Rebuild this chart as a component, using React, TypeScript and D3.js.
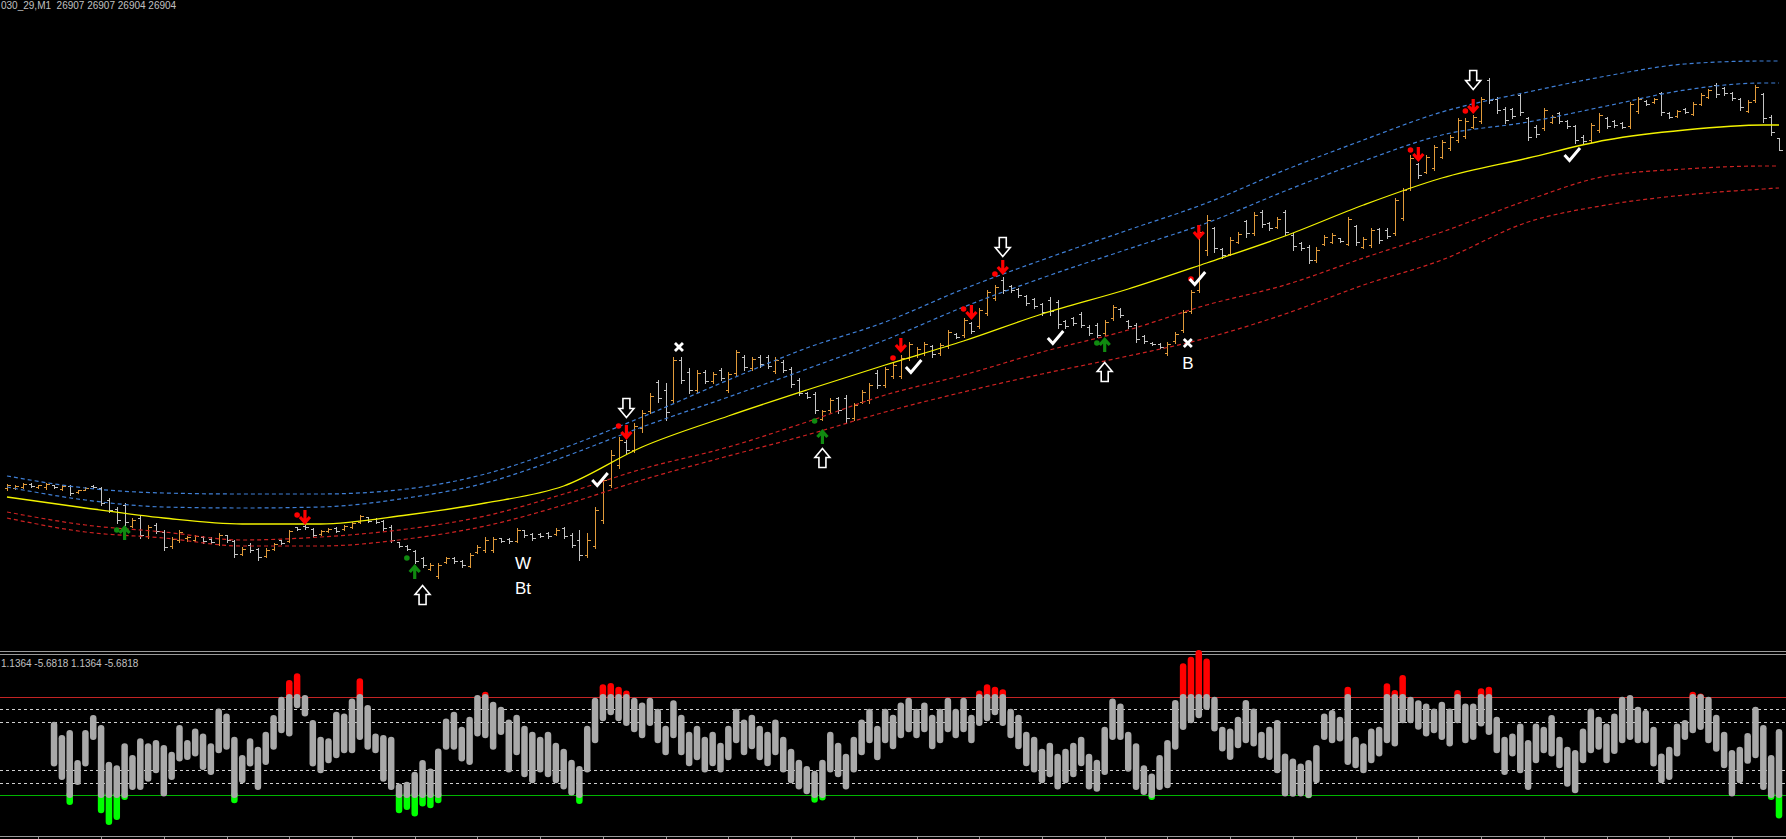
import { useEffect } from "react";
import * as d3 from "d3";

const WIDTH = 1786;
const HEIGHT = 839;

const symbolText = "030_29,M1  26907 26907 26904 26904";
const oscText = "1.1364 -5.6818 1.1364 -5.6818";

// M1 price bars
const opens = [
  26819.5, 26819.5, 26819.75, 26820.5, 26819.75, 26819.75, 26820.25, 26819.25, 26820, 26818.5,
  26819, 26820, 26819.5, 26816.5, 26814.25, 26815.25, 26810, 26812, 26807.5, 26810.25,
  26808.5, 26805, 26806.5, 26807, 26806.5, 26807.25, 26806.75, 26805.5, 26807.75, 26806.25,
  26803, 26805.25, 26804.25, 26802.5, 26804.25, 26806.5, 26806.25, 26809.75, 26810, 26809.25,
  26808, 26808.75, 26809.5, 26809.25, 26809.75, 26811, 26812.25, 26811.75, 26811.25, 26809.75,
  26806, 26805, 26803.75, 26802, 26799.25, 26797.5, 26801, 26802, 26801.25, 26800,
  26803.5, 26804, 26804, 26807, 26806.75, 26806.25, 26809, 26808, 26808, 26808.25,
  26808, 26809.5, 26807.75, 26806.5, 26802.75, 26805, 26811.5, 26820.25, 26825.25, 26831,
  26829, 26834.5, 26838.75, 26846, 26844, 26841.5, 26851.5, 26848.5, 26844, 26848.5,
  26846.25, 26849, 26844, 26848.25, 26852.25, 26849.5, 26852.25, 26852.25, 26848.75, 26851,
  26849.25, 26846.5, 26843.25, 26843, 26836.75, 26839, 26842, 26842, 26837, 26841,
  26841.5, 26848.25, 26845.25, 26847.5, 26847.5, 26852, 26852.75, 26853.25, 26855, 26853.25,
  26855, 26858, 26857.75, 26860.75, 26860, 26863.25, 26867, 26871.5, 26870, 26869.25,
  26867.5, 26866.75, 26865.5, 26866.5, 26866, 26861.25, 26862, 26863, 26859.75, 26860.25,
  26858.25, 26862, 26864.25, 26861.25, 26860.25, 26857.5, 26855.75, 26855.5, 26853.25, 26856.25,
  26859, 26863.75, 26869, 26879, 26884.5, 26879.25, 26878, 26881, 26886.25, 26883.25,
  26888.5, 26885.75, 26884.75, 26888.5, 26882.75, 26880.75, 26879.75, 26876.5, 26880.5, 26881,
  26882, 26880.5, 26885, 26879.75, 26880.25, 26884.25, 26884, 26883.25, 26887, 26894.5,
  26900.5, 26898.5, 26899.5, 26902.25, 26904.5, 26906.5, 26907.5, 26909.75, 26911.25, 26921.5,
  26916.75, 26914.25, 26914.25, 26917.75, 26912, 26909.75, 26909.5, 26911, 26913.25, 26911.25,
  26910, 26907.25, 26906.5, 26909, 26912, 26911.25, 26910.75, 26910, 26913.75, 26916.25,
  26916, 26918.25, 26913.25, 26912.5, 26914.25, 26913, 26915.5, 26917.25, 26920.25, 26919.5,
  26918.25, 26916.75, 26913.75, 26916.5, 26918, 26912.25, 26907,
];
const highs = [
  26820.5, 26820.25, 26820.75, 26820.75, 26820.25, 26820.75, 26820.25, 26820.25, 26820.25, 26819,
  26819.75, 26820.25, 26819.75, 26817, 26814.75, 26815.75, 26812, 26812.75, 26810.25, 26810.75,
  26809, 26807.25, 26809, 26807.5, 26807.75, 26807.5, 26807.25, 26808.25, 26807.75, 26806.5,
  26804.75, 26805.75, 26804.5, 26804.5, 26805.75, 26806.5, 26809, 26809.75, 26810.25, 26809.5,
  26809, 26809.5, 26809.75, 26810.25, 26811, 26812.75, 26812.25, 26812, 26811.5, 26810.25,
  26806, 26805.25, 26804, 26802.25, 26800.75, 26800.75, 26802.25, 26802.25, 26801.5, 26803.25,
  26805.25, 26807.25, 26807.25, 26807, 26807, 26809.5, 26809, 26808.25, 26808.25, 26808.5,
  26809.5, 26809.75, 26808.25, 26809, 26808.25, 26814.75, 26822.25, 26829, 26832.25, 26831.5,
  26835.75, 26839, 26843.25, 26846.5, 26845.75, 26852.25, 26852.25, 26849.5, 26849, 26849,
  26848.5, 26849.5, 26848.5, 26854, 26852.75, 26852.25, 26852.75, 26852.75, 26852.25, 26851.5,
  26849.75, 26847, 26843.5, 26843.5, 26839, 26842, 26842.25, 26842.75, 26840.75, 26844,
  26845.75, 26849, 26849.75, 26850.75, 26852.75, 26856, 26854.75, 26856, 26855.25, 26855.75,
  26859, 26858.25, 26862, 26861, 26864.5, 26869, 26870.25, 26872.25, 26870.25, 26869.5,
  26867.75, 26867, 26865.75, 26867.25, 26866.5, 26861.5, 26862.25, 26863.5, 26860.25, 26860.75,
  26861.5, 26865.25, 26864.5, 26861.5, 26860.75, 26857.75, 26856, 26855.75, 26856, 26858.5,
  26864, 26869, 26884.75, 26887.75, 26884.75, 26879.5, 26882.25, 26883.5, 26886.5, 26888.5,
  26889, 26886, 26887.25, 26889, 26883.25, 26881, 26880.25, 26879.75, 26882.75, 26883.25,
  26882, 26887.25, 26885.25, 26882.25, 26884.5, 26884.5, 26884.5, 26892, 26894.5, 26902.75,
  26900.75, 26902.75, 26905.25, 26906.5, 26907.75, 26912, 26912, 26912.75, 26917.25, 26922,
  26917.25, 26914.75, 26914.5, 26918.25, 26912.25, 26910.25, 26914.5, 26912.75, 26913.5, 26911.5,
  26910.25, 26907.75, 26910.75, 26913.25, 26912.25, 26911.5, 26911, 26916, 26917.25, 26916.5,
  26917, 26918.5, 26913.5, 26914, 26914.5, 26916, 26918.25, 26919.25, 26920.75, 26919.75,
  26918.5, 26917, 26916.5, 26920.25, 26918.25, 26912.75, 26907,
];
const lows = [
  26819, 26819.25, 26819.5, 26819.75, 26819.5, 26819.25, 26819.5, 26819, 26817.75, 26818.25,
  26819, 26819.5, 26815.25, 26813.5, 26810.75, 26810.25, 26809.75, 26807, 26807, 26808.25,
  26804, 26804.5, 26806, 26806.25, 26806.25, 26805.75, 26805.75, 26805.25, 26806, 26802.25,
  26802.75, 26803.5, 26801.5, 26802.25, 26804, 26805.5, 26806, 26809, 26809.25, 26807.25,
  26807.75, 26808.5, 26808.5, 26809, 26809.5, 26810.75, 26811, 26810.75, 26809, 26806,
  26804.75, 26804, 26800.75, 26799.75, 26799, 26797, 26800.75, 26800.75, 26799.75, 26799.75,
  26803.25, 26803.5, 26803.5, 26806, 26805.75, 26806, 26807.25, 26806.5, 26807.25, 26807,
  26807.75, 26807, 26804.75, 26801.5, 26802.25, 26804.5, 26810.75, 26819.75, 26824.5, 26828.25,
  26828.5, 26833.5, 26838.25, 26841, 26836.5, 26841, 26845.75, 26843.25, 26843.5, 26845.75,
  26845.75, 26846.5, 26843.5, 26847.75, 26849, 26849, 26849.75, 26849.5, 26848.25, 26848.5,
  26844.75, 26842.75, 26842, 26838.25, 26836.5, 26838.5, 26838.25, 26836, 26836.5, 26840.75,
  26840.75, 26844.5, 26844.75, 26847, 26847, 26851.5, 26852.25, 26852.75, 26852.25, 26852.75,
  26854.5, 26857, 26857.25, 26858.25, 26859.5, 26862.75, 26866.5, 26868.25, 26868.5, 26867.25,
  26865.25, 26864.5, 26862.75, 26862.75, 26859.5, 26859.5, 26860.25, 26859.75, 26857.75, 26857.25,
  26857.75, 26861.5, 26862.25, 26859.5, 26856, 26855.75, 26855.25, 26854.5, 26852.75, 26855.75,
  26858.5, 26863.25, 26868.5, 26877.75, 26878.5, 26877, 26877.75, 26880.75, 26882.25, 26882.75,
  26884.75, 26884, 26884.5, 26882.75, 26879, 26879, 26875.75, 26876, 26880.25, 26880.75,
  26881, 26880.25, 26880.25, 26879.5, 26879.75, 26880.75, 26882, 26882.75, 26886.5, 26894,
  26897, 26898.25, 26899, 26902, 26904, 26906, 26907, 26909.5, 26910.75, 26915.75,
  26913.25, 26910.75, 26912, 26912.75, 26906.5, 26907.25, 26909, 26910.75, 26910.75, 26909.5,
  26905.75, 26905.75, 26906, 26908.5, 26909.5, 26909.75, 26909.5, 26909.5, 26913.25, 26915.25,
  26915.75, 26912.75, 26912, 26912.25, 26913.25, 26912.75, 26915.25, 26917, 26917.25, 26917.75,
  26916.5, 26914, 26913.5, 26916, 26911, 26907.75, 26904,
];
const closes = [
  26820.25, 26820, 26820.5, 26820, 26820.25, 26820.5, 26819.75, 26820, 26818.25, 26819,
  26819.5, 26819.75, 26815.75, 26814, 26811.5, 26811, 26811.5, 26807.75, 26809.75, 26808.75,
  26804.75, 26806.75, 26808.5, 26807.25, 26807.5, 26806.25, 26806, 26807.75, 26806.5, 26803,
  26804.25, 26804, 26802.25, 26804, 26805.5, 26805.75, 26808.75, 26809.25, 26809.75, 26807.75,
  26808.75, 26809.25, 26808.75, 26810, 26810.75, 26812.5, 26811.25, 26811, 26809.5, 26806.5,
  26805, 26804.25, 26801.25, 26800.25, 26800.25, 26800.25, 26802, 26801.25, 26800.25, 26802.75,
  26804.75, 26806.5, 26806.75, 26806.25, 26806.25, 26809, 26807.75, 26807, 26807.5, 26807.5,
  26809, 26807.5, 26805.25, 26802.75, 26806.5, 26814, 26821.5, 26827.75, 26831.5, 26829,
  26835, 26838.25, 26842.5, 26842, 26838.5, 26851.5, 26846.5, 26844, 26848.25, 26846.25,
  26848, 26847, 26848, 26853.5, 26849.75, 26851.75, 26850.5, 26850, 26851.5, 26849,
  26845.5, 26843.25, 26842.25, 26839, 26838.75, 26841.5, 26839, 26837, 26840.25, 26843.5,
  26845.25, 26845.25, 26849.25, 26850.25, 26852, 26855.5, 26854.25, 26855.5, 26853, 26855.25,
  26858.5, 26857.25, 26861.5, 26858.75, 26864, 26868.5, 26869.75, 26869, 26869, 26867.75,
  26865.75, 26865, 26863.5, 26863.75, 26860.5, 26860, 26860.75, 26860.25, 26858.25, 26857.75,
  26861, 26864.75, 26862.75, 26860, 26856.75, 26856.25, 26855.5, 26854.75, 26855.5, 26858,
  26863.5, 26868.5, 26883.5, 26886.5, 26879.5, 26877.75, 26881.5, 26883, 26883.25, 26887.75,
  26885.5, 26884.5, 26886.75, 26883.5, 26880, 26879.5, 26876.5, 26879, 26882.25, 26882.75,
  26881.25, 26886.75, 26881, 26881.75, 26884, 26881.5, 26882.5, 26891.5, 26894, 26902,
  26897.75, 26902.25, 26904.75, 26906, 26907.25, 26911.5, 26911.25, 26912.25, 26916.75, 26916.5,
  26914, 26911.5, 26912.5, 26913.5, 26907.25, 26908, 26914, 26912.25, 26911.25, 26910,
  26906.5, 26906.25, 26910.25, 26912.75, 26910, 26910.25, 26909.75, 26915.5, 26916.75, 26915.5,
  26916.75, 26913.5, 26912.25, 26913.75, 26913.5, 26915.5, 26917.75, 26919, 26918, 26918.25,
  26917, 26914.75, 26916, 26919.75, 26912, 26908.5, 26904,
];

// moving average and envelope bands, read at these bar numbers
const bandBars = [0, 10, 20, 30, 40, 51, 61, 71, 81, 92, 102, 112, 122, 132, 143, 153, 163, 173, 183, 194, 204, 214, 224, 226];
const maLine = [26817.25, 26814.5, 26812, 26810.5, 26810.5, 26812.75, 26815.75, 26820, 26829.75, 26837.5, 26844, 26850.25, 26856.25, 26863, 26869.25, 26875.75, 26882.5, 26890.25, 26897, 26902, 26906.5, 26909, 26910.25, 26910.25];
const upperOuter = [26822.5, 26819.5, 26818.25, 26818, 26818, 26819.25, 26823, 26829.5, 26837.25, 26846.5, 26854.5, 26861, 26869.25, 26876.5, 26884, 26890.75, 26899, 26906.5, 26913.5, 26918.5, 26922.5, 26925.5, 26926.25, 26926.25];
const upperInner = [26819.75, 26816.5, 26814.75, 26814.5, 26814.75, 26817, 26820.75, 26827.25, 26834.75, 26842.25, 26849.25, 26856.5, 26864.75, 26872, 26879.25, 26885.75, 26893.75, 26901.25, 26907.75, 26911, 26915, 26919, 26920.75, 26920.75];
const lowerInner = [26813.5, 26810.25, 26808.5, 26806.5, 26807.25, 26809.25, 26812.5, 26818, 26824.25, 26829.75, 26836, 26842.75, 26847.75, 26853.5, 26859, 26865.25, 26870.25, 26877, 26883.5, 26891.5, 26897.5, 26899.25, 26900, 26900];
const lowerOuter = [26812, 26808.5, 26807, 26805, 26805, 26806.75, 26810, 26815.25, 26821.5, 26827.5, 26832.75, 26838.5, 26843.5, 26848, 26852.5, 26857, 26863, 26870.25, 26876.5, 26886, 26890.25, 26892.75, 26894.25, 26894.5];

// signal markers: [bar, price]
const redArrows = [[38, 26812.25], [79, 26833.5], [114, 26855.25], [123, 26863.5], [127, 26874.75], [152, 26883.5], [180, 26903], [187, 26915]];
const redDots = [[37, 26812.75], [78, 26835], [113, 26852], [122, 26864.25], [126, 26873], [151, 26871.75], [179, 26904], [186, 26913.75]];
const greenArrows = [[15, 26808.25], [52, 26798.5], [104, 26832.25], [140, 26855.25]];
const greenDots = [[14, 26809], [51, 26802], [103, 26836.25], [139, 26855.75]];
const hollowDown = [[79, 26839.5], [127, 26879.75], [187, 26921.5]];
const hollowUp = [[53, 26792.75], [104, 26827], [140, 26848.5]];
const checks = [[75.6, 26821.5], [115.6, 26849.75], [133.7, 26857], [151.8, 26871.75], [199.6, 26902.75]];
const crosses = [[85.7, 26854.75], [150.6, 26855.75]];
const labels: [string, number, number][] = [["W", 65.8, 26800.75], ["Bt", 65.8, 26794.5], ["B", 150.6, 26850.75]];

// oscillator (two buffers per bar), levels
const oscHigh = [
  null, null, null, null, null, null, 1.73, 0.63, 1.04, -1.42,
  1.04, 2.27, 1.45, -1.56, -1.84, -0.05, -1.01, 0.36, -0.05, 0.22,
  -0.19, -0.74, 1.45, 0.22, 1.18, 0.77, -0.05, 2.82, 2.41, 0.49,
  -1.01, 0.36, -0.33, 0.9, 2.27, 3.78, 5.15, 5.7, 3.92, 1.86,
  0.49, 0.36, 2.55, 2.41, 3.64, 5.29, 3.1, 0.77, 0.63, 0.49,
  -3.34, -3.21, -2.38, -1.42, -2.11, -0.47, 2.0, 2.55, 1.32, 2.14,
  3.92, 4.19, 3.37, 2.96, 1.9, 2.3, 1.4, 0.9, 0.5, 0.9,
  0.0, -0.5, -1.4, -1.9, 1.4, 3.7, 4.8, 4.9, 4.6, 4.3,
  3.7, 3.3, 3.7, 2.8, 1.4, 3.5, 2.3, 0.9, 1.4, 0.5,
  0.9, 0.0, 1.4, 2.8, 1.9, 2.3, 1.4, 0.9, 1.9, 0.5,
  -0.5, -1.4, -1.9, -2.3, -1.4, 0.9, 0.0, -0.9, 0.5, 1.9,
  2.8, 1.4, 2.8, 2.3, 3.3, 3.7, 2.8, 3.3, 2.3, 2.8,
  3.7, 2.8, 3.7, 2.3, 4.3, 4.8, 4.6, 4.4, 2.8, 2.3,
  0.9, 0.5, -0.5, 0.0, -0.9, -0.5, 0.0, 0.5, -0.9, -1.4,
  1.32, 3.64, 3.23, 0.9, -0.05, -1.84, -2.52, -1.01, 0.22, 3.51,
  6.52, 7.07, 7.62, 6.93, 3.78, 1.32, 1.18, 2.14, 3.51, 2.82,
  0.9, 1.32, 1.86, -0.88, -1.3, -1.7, -1.42, -0.19, 2.41, 2.68,
  2.14, 4.6, 0.49, -0.05, 1.18, 1.32, 4.88, 4.33, 5.56, 3.78,
  3.5, 3.23, 2.82, 3.37, 2.82, 4.33, 3.23, 3.23, 4.47, 4.6,
  2.14, 0.49, 0.77, 1.59, 0.22, 1.59, 1.32, 2.27, 0.49, -0.33,
  -0.6, 1.18, 2.82, 2.14, 1.59, 2.4, 3.78, 3.92, 2.96, 2.68,
  1.32, -0.88, -0.33, 1.59, 1.86, 4.19, 4.05, 3.78, 2.3, 0.9,
  -0.6, -0.33, 0.8, 2.96, 1.45, -1.01, 1.1364,
];
const oscLow = [
  null, null, null, null, null, null, -1.42, -2.52, -4.58, -2.93,
  -1.42, 0.77, -5.26, -6.22, -5.81, -4.16, -3.34, -3.34, -2.66, -1.97,
  -3.89, -2.52, -1.01, -0.88, -0.6, -1.7, -2.11, -0.33, -0.05, -4.44,
  -2.79, -1.42, -3.34, -1.29, -0.05, 1.32, 1.04, 3.37, 2.68, -1.42,
  -1.97, -1.15, -0.74, -0.33, -0.33, 0.77, -0.05, -0.33, -2.66, -3.34,
  -5.26, -4.99, -5.53, -4.71, -4.85, -4.44, -0.05, -0.05, -1.01, -1.29,
  1.04, 0.9, -0.05, 1.18, -1.9, -0.5, -2.3, -2.8, -1.9, -2.3,
  -2.8, -3.3, -3.8, -4.5, -1.9, 0.5, 2.3, 2.8, 2.3, 1.9,
  1.4, 0.9, 1.9, 0.5, -0.5, 0.9, -0.5, -1.4, -0.9, -1.9,
  -1.4, -1.9, -0.9, 0.5, -0.5, 0.0, -0.9, -1.4, -0.5, -1.9,
  -2.8, -3.3, -3.7, -4.4, -4.2, -1.9, -2.3, -3.3, -1.9, -0.5,
  0.5, -0.9, 0.5, 0.0, 0.9, 1.4, 0.9, 1.4, 0.0, 0.5,
  1.4, 0.9, 1.4, 0.5, 1.9, 2.3, 2.8, 1.9, 0.9, 0.0,
  -1.4, -1.9, -2.8, -2.3, -3.3, -2.8, -2.3, -1.4, -3.3, -3.5,
  -2.11, 0.77, 0.77, -1.84, -3.34, -3.75, -4.16, -3.34, -3.21, -0.05,
  1.59, 2.14, 2.55, 3.23, 1.45, -0.19, -0.88, 0.08, 0.49, 0.22,
  -0.74, -0.88, -1.97, -3.89, -3.9, -3.89, -4.03, -2.79, 0.77, 0.49,
  0.63, -1.29, -1.56, -1.97, -1.15, -0.6, 0.49, 0.22, 2.14, 2.14,
  1.6, 1.04, 1.32, 0.77, 0.22, 2.14, 0.49, 0.77, 1.86, 1.18,
  -0.33, -2.11, -0.6, -1.97, -3.34, -1.15, -0.33, -0.6, -1.56, -3.07,
  -3.62, -1.15, -0.33, -0.05, -1.15, -0.4, 0.49, 0.77, 0.49, 0.49,
  -1.42, -2.79, -2.52, -0.6, 0.77, 1.32, 1.59, 0.49, -0.2, -1.56,
  -3.89, -2.79, -1.2, -0.74, -3.34, -4.16, -5.6818,
];
const upperLevel = 4;
const lowerLevel = -4;
const dashLevels = [3, 2, -2, -3];

const UP = "#e09a3a";
const DOWN = "#c4c4c4";

export default function App() {
  useEffect(() => {
    document.body.style.margin = "0";
    document.body.style.background = "#000";
  }, []);

  const x = d3.scaleLinear().domain([0, opens.length - 1]).range([7, 1779]);
  const y = d3.scaleLinear().domain([26779, 26941.5]).range([650, 0]);
  const oy = d3.scaleLinear().domain([-4, 4]).range([794.7, 697.3]);

  const bandPath = (vals: number[]) =>
    d3.line<number>()
      .x((_, k) => x(bandBars[k]))
      .y((v) => y(v))
      .curve(d3.curveMonotoneX)(vals) || "";

  const px = (i: number) => Math.round(x(i)) + 0.5;
  const py = (v: number) => Math.round(y(v)) + 0.5;

  const bars = opens.map((o, i) => {
    const xc = px(i);
    const d = `M${xc},${Math.round(y(highs[i]))}V${Math.round(y(lows[i])) + 1}` +
      `M${xc - 3},${py(o)}H${xc}M${xc},${py(closes[i])}H${xc + 3}`;
    return <path key={i} d={d} stroke={closes[i] >= o ? UP : DOWN} strokeWidth={1} fill="none" />;
  });

  // colored parts first, gray on top so its caps show at the levels
  const oscCols: JSX.Element[] = [];
  const oscGray: JSX.Element[] = [];
  const colW = 6.5;
  oscHigh.forEach((hi, i) => {
    const lo = oscLow[i];
    if (hi == null || lo == null) return;
    const xc = x(i);
    if (hi > upperLevel) {
      oscCols.push(<line key={"r" + i} x1={xc} x2={xc} y1={oy(upperLevel)} y2={oy(hi)} stroke="#ff0000" strokeWidth={colW} strokeLinecap="round" />);
    }
    if (lo < lowerLevel) {
      oscCols.push(<line key={"g" + i} x1={xc} x2={xc} y1={oy(lowerLevel)} y2={oy(lo)} stroke="#00ff00" strokeWidth={colW} strokeLinecap="round" />);
    }
    const top = Math.min(hi, upperLevel);
    const bot = Math.max(lo, lowerLevel);
    if (top > bot) {
      oscGray.push(<line key={"a" + i} x1={xc} x2={xc} y1={oy(bot)} y2={oy(top)} stroke="#a9a9a9" strokeWidth={colW} strokeLinecap="round" />);
    }
  });

  const ticks = d3.range(4, opens.length, 8);
  const font = "'Liberation Sans', Arial, sans-serif";

  return (
    <svg width={WIDTH} height={HEIGHT} style={{ position: "fixed", left: 0, top: 0, background: "#000", display: "block" }}>
      <rect width={WIDTH} height={HEIGHT} fill="#000" />
      <defs>
        <clipPath id="main"><rect x={0} y={0} width={WIDTH} height={650} /></clipPath>
      </defs>

      <g clipPath="url(#main)">
        <g shapeRendering="crispEdges">{bars}</g>
        <path d={bandPath(upperOuter)} fill="none" stroke="#3f7fd6" strokeWidth={1.2} strokeDasharray="4,3" />
        <path d={bandPath(upperInner)} fill="none" stroke="#3f7fd6" strokeWidth={1.2} strokeDasharray="4,3" />
        <path d={bandPath(lowerInner)} fill="none" stroke="#cc2222" strokeWidth={1.2} strokeDasharray="4,3" />
        <path d={bandPath(lowerOuter)} fill="none" stroke="#cc2222" strokeWidth={1.2} strokeDasharray="4,3" />
        <path d={bandPath(maLine)} fill="none" stroke="#f2f200" strokeWidth={1.3} />

        {redDots.map(([i, p], k) => <circle key={"rd" + k} cx={x(i)} cy={y(p)} r={2.8} fill="#ff0000" />)}
        {greenDots.map(([i, p], k) => <circle key={"gd" + k} cx={x(i)} cy={y(p)} r={2.8} fill="#108a10" />)}
        {redArrows.map(([i, p], k) => (
          <g key={"ra" + k} transform={`translate(${x(i)},${y(p)})`}>
            <path d="M0,-7V5M-5,0L0,5.5L5,0" fill="none" stroke="#ff0000" strokeWidth={3.2} />
          </g>
        ))}
        {greenArrows.map(([i, p], k) => (
          <g key={"ga" + k} transform={`translate(${x(i)},${y(p)})`}>
            <path d="M0,7V-5M-5,0L0,-5.5L5,0" fill="none" stroke="#108a10" strokeWidth={3.2} />
          </g>
        ))}
        {hollowDown.map(([i, p], k) => (
          <path key={"hd" + k} transform={`translate(${x(i)},${y(p)})`}
            d="M-3.5,-9.5H3.5V0.5H7.5L0,9.5L-7.5,0.5H-3.5Z" fill="#000" stroke="#fff" strokeWidth={1.6} strokeLinejoin="miter" />
        ))}
        {hollowUp.map(([i, p], k) => (
          <path key={"hu" + k} transform={`translate(${x(i)},${y(p)})`}
            d="M-3.5,9.5H3.5V-0.5H7.5L0,-9.5L-7.5,-0.5H-3.5Z" fill="#000" stroke="#fff" strokeWidth={1.6} strokeLinejoin="miter" />
        ))}
        {checks.map(([i, p], k) => (
          <path key={"ck" + k} transform={`translate(${x(i)},${y(p)})`}
            d="M-7.5,0L-2.5,5.5L8,-7" fill="none" stroke="#fff" strokeWidth={3} />
        ))}
        {crosses.map(([i, p], k) => (
          <path key={"x" + k} transform={`translate(${x(i)},${y(p)})`}
            d="M-4,-4L4,4M4,-4L-4,4" fill="none" stroke="#fff" strokeWidth={2.8} />
        ))}
        {labels.map(([t, i, p], k) => (
          <text key={"l" + k} x={x(i)} y={y(p)} fill="#fff" fontFamily={font} fontSize={17}
            textAnchor="middle" dominantBaseline="central">{t}</text>
        ))}
      </g>

      <text x={1} y={9} fill="#c0c0c0" fontFamily={font} fontSize={10} style={{ whiteSpace: "pre" }}>{symbolText}</text>

      {/* window separator */}
      <line x1={0} x2={WIDTH} y1={651.5} y2={651.5} stroke="#9a9a9a" />
      <line x1={0} x2={WIDTH} y1={654.5} y2={654.5} stroke="#9a9a9a" />

      {/* oscillator window */}
      <text x={1} y={667} fill="#c0c0c0" fontFamily={font} fontSize={10}>{oscText}</text>
      <g shapeRendering="crispEdges">
        {dashLevels.map((lv) => (
          <line key={lv} x1={0} x2={WIDTH} y1={Math.round(oy(lv)) + 0.5} y2={Math.round(oy(lv)) + 0.5}
            stroke="#d0d0d0" strokeDasharray="3,3" />
        ))}
        <line x1={0} x2={WIDTH} y1={Math.round(oy(upperLevel)) + 0.5} y2={Math.round(oy(upperLevel)) + 0.5} stroke="#c42424" />
        <line x1={0} x2={WIDTH} y1={Math.round(oy(lowerLevel)) + 0.5} y2={Math.round(oy(lowerLevel)) + 0.5} stroke="#00b400" />
      </g>
      {oscCols}
      {oscGray}

      {/* time axis */}
      <g shapeRendering="crispEdges">
        <line x1={0} x2={WIDTH} y1={836.5} y2={836.5} stroke="#9a9a9a" />
        {ticks.map((t) => (
          <line key={t} x1={px(t)} x2={px(t)} y1={836} y2={839} stroke="#9a9a9a" />
        ))}
      </g>
    </svg>
  );
}
